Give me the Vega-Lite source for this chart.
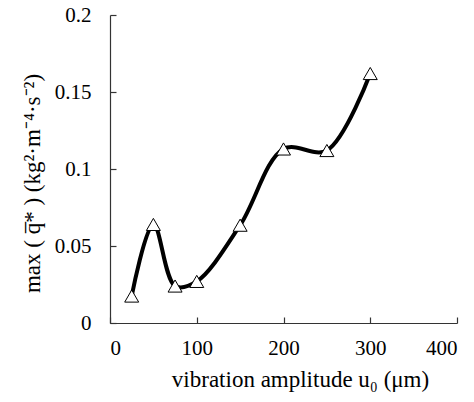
{
  "$schema": "https://vega.github.io/schema/vega-lite/v6.json",
  "autosize": "none",
  "padding": {"left": 110, "top": 15, "right": 17, "bottom": 79},
  "width": 347,
  "height": 308,
  "background": "white",
  "config": {
    "view": {"stroke": null},
    "font": "Liberation Serif",
    "axis": {
      "grid": false,
      "domainColor": "#333333",
      "tickColor": "#333333",
      "domainWidth": 1.2,
      "tickWidth": 1.2,
      "labelFont": "Liberation Serif",
      "titleFont": "Liberation Serif",
      "labelColor": "black",
      "titleColor": "black",
      "labelFontSize": 21,
      "titleFontSize": 23,
      "titleFontWeight": "normal"
    }
  },
  "data": {
    "values": [
      {"u": 25, "q": 0.0175},
      {"u": 50, "q": 0.064},
      {"u": 75, "q": 0.024},
      {"u": 100, "q": 0.027},
      {"u": 150, "q": 0.0635},
      {"u": 200, "q": 0.113},
      {"u": 250, "q": 0.112},
      {"u": 300, "q": 0.162}
    ]
  },
  "encoding": {
    "x": {
      "field": "u",
      "type": "quantitative",
      "scale": {"domain": [0, 400], "nice": false},
      "axis": {
        "values": [0, 100, 200, 300, 400],
        "tickSize": -6,
        "labelPadding": 20,
        "title": "vibration amplitude u₀ (μm)",
        "titlePadding": 10,
        "titleX": 190
      }
    },
    "y": {
      "field": "q",
      "type": "quantitative",
      "scale": {"domain": [0, 0.2], "nice": false},
      "axis": {
        "values": [0, 0.05, 0.1, 0.15, 0.2],
        "format": "~g",
        "tickSize": -6,
        "labelPadding": 25,
        "title": "max ( q̅* )  (kg²·m⁻⁴·s⁻²)",
        "titlePadding": 10,
        "titleY": 168
      }
    }
  },
  "layer": [
    {
      "mark": {"type": "line", "interpolate": "catmull-rom", "color": "black", "strokeWidth": 4}
    },
    {
      "mark": {"type": "point", "shape": "triangle-up", "size": 196, "filled": true, "fill": "white", "stroke": "black", "strokeWidth": 1, "opacity": 1}
    }
  ]
}
